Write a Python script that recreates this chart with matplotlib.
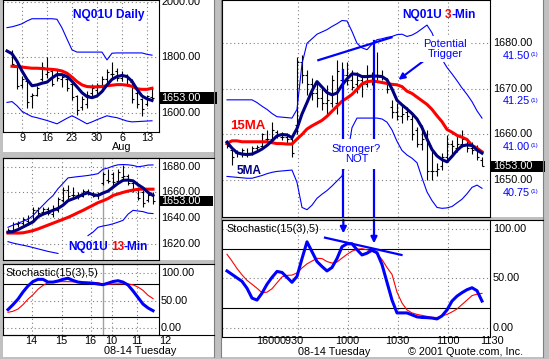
import numpy as np
import matplotlib
matplotlib.use('Agg')
import matplotlib.pyplot as plt
from matplotlib.patches import Rectangle
from matplotlib.lines import Line2D
import matplotlib.transforms as mtrans

plt.rcParams['font.family'] = ['Liberation Sans', 'DejaVu Sans']
nan = np.nan

# ---------------- Daily panel data (trading-day index, 9 Jul = 0) ----------------
day_idx = np.arange(-3, 27)
day_tick_pos = [0, 5, 10, 15, 20, 25]
day_tick_lab = ['9', '16', '23', '30', '6', '13']
day_ma5 = [1822, 1812, 1785, 1750, 1720, 1697, 1700, 1706, 1710, 1725, 1737, 1737, 1730, 1713, 1693,
           1672, 1658, 1654, 1660, 1676, 1700, 1720, 1730, 1734, 1730, 1713, 1684, 1660, 1650, 1644]
day_ma15 = [nan, 1767, 1766, 1764, 1762, 1760, 1760, 1759, 1757, 1756, 1754, 1750, 1742, 1728, 1712,
            1700, 1694, 1693, 1693, 1694, 1697, 1699, 1701, 1701, 1699, 1695, 1686, 1684, 1684, 1688]
day_upper = [1906, 1909, 1914, 1920, 1930, 1938, 1938, 1938, 1938, 1938, 1936, 1905, 1865, 1826, 1818,
             1818, 1818, 1818, 1818, 1818, 1790, 1814, 1815, 1815, 1815, 1815, 1815, 1815, 1810, 1807]
day_lower = [1637, 1640, 1625, 1605, 1595, 1586, 1582, 1577, 1572, 1566, 1560, 1570, 1580, 1589, 1580,
             1570, 1560, 1567, 1575, 1582, 1589, 1585, 1582, 1576, 1570, 1567, 1568, 1569, 1570, 1571]
day_high = [nan, 1827, 1775, 1732, 1720, 1672, 1696, 1781, 1799, 1762, 1756, 1738, 1726, 1714, 1665,
            1659, 1678, 1702, 1708, 1732, 1756, 1781, 1762, 1750, 1738, 1720, 1684, 1653, 1665, 1690]
day_low = [nan, 1768, 1684, 1690, 1617, 1617, 1659, 1714, 1726, 1696, 1714, 1693, 1678, 1647, 1593,
           1611, 1617, 1659, 1665, 1690, 1708, 1726, 1714, 1714, 1696, 1635, 1617, 1587, 1623, 1647]
day_open = [nan, 1820, 1770, 1700, 1715, 1660, 1665, 1720, 1740, 1750, 1740, 1720, 1720, 1705, 1660,
            1620, 1630, 1670, 1680, 1700, 1720, 1740, 1750, 1725, 1735, 1710, 1670, 1650, 1630, 1655]
day_close = [nan, 1775, 1695, 1720, 1640, 1665, 1690, 1765, 1745, 1705, 1725, 1730, 1690, 1655, 1610,
             1650, 1665, 1690, 1700, 1720, 1745, 1740, 1725, 1735, 1705, 1650, 1630, 1615, 1660, 1653]
day_yticks = [1600, 1800, 2000]

# ---------------- 13-min panel data ----------------
m13_idx = np.arange(0, 30)
m13_tick_pos = [4.7, 10.7, 16.5, 20.7, 25.7, 31.4]
m13_tick_lab = ['14', '15', '16', '10', '11', '12']
m13_daybreak = 19
m13_ma5 = [1629, 1629.5, 1631, 1633, 1635, 1637, 1641, 1643, 1644.5, 1646, 1647.5, 1650, 1653.5, 1655, 1656.5,
           1658.5, 1659.7, 1658.2, 1657.6, 1659.5, 1661, 1664, 1667, 1669.4, 1669.6, 1669, 1666, 1663.5, 1660, 1657.6]
m13_ma15 = [1628.3, 1628.3, 1628.3, 1628.5, 1629.3, 1630.2, 1631.5, 1633, 1634.5, 1636, 1637.5, 1639, 1640.5,
            1642.3, 1644.2, 1646, 1648, 1650, 1652, 1653.5, 1655.2, 1657.6, 1658.8, 1660, 1661, 1661.8, 1662.4,
            1662.5, 1662.5, 1662.5]
m13_upper = [1632.8, 1634.5, 1636, 1637.5, 1639, 1642, 1646, 1650, 1654, 1657.5, 1662.9, 1667, 1671.3, 1671.8,
             1672.3, 1672.7, 1673.2, 1673.8, 1674.6, 1678, 1679, 1680.5, 1681.5, 1681.7, 1681.5, 1681, 1680,
             1680.5, 1681.3, 1681.4]
m13_lower = [1621.6, 1620.5, 1619.6, 1618.8, 1618, 1617, 1616, 1615, 1614, 1613.2, 1612.4, nan, nan, nan, nan,
             nan, 1626.3, 1629, 1632.8, 1633.8, 1634.5, 1635.5, 1636.8, 1638.2, 1643, 1646, 1645.5, 1645,
             1643.8, 1643.5]
m13_high = [1632, 1637, 1638, 1641, 1642, 1648.5, 1648.5, 1648.5, 1648.5, 1650, 1656.3, 1664, 1665.5, 1664, 1660,
            1663, 1663, 1660, 1660, 1676, 1678.6, 1676, 1678.6, 1681.2, 1674.7, 1668.2, 1664.2, 1661.6, 1660.3, 1660.3]
m13_low = [1628, 1629, 1633, 1634.5, 1634.5, 1636.7, 1642, 1643, 1642, 1641, 1644.6, 1652.4, 1653.7, 1655, 1655,
           1656.3, 1657.6, 1656.3, 1655, 1665.5, 1667, 1665.5, 1668.2, 1670.8, 1665.5, 1660.3, 1653.7, 1648.5,
           1652.4, 1651]
m13_open = [1629, 1630, 1635, 1636, 1638, 1638, 1646, 1645, 1647, 1643, 1646, 1654, 1662, 1658, 1658, 1657, 1661,
            1659, 1658, 1667, 1670, 1674, 1669, 1672, 1673, 1667, 1662, 1660, 1654, 1658]
m13_close = [1631, 1635, 1636, 1639, 1637, 1646, 1644, 1647, 1644, 1648, 1655, 1662, 1657, 1658, 1657, 1661, 1659,
             1657, 1659, 1674, 1669, 1668, 1676, 1673, 1667, 1662, 1656, 1652, 1658, 1653]
m13_yticks = [1620, 1640, 1660, 1680]
s13_k = [34, 43, 53, 66, 77, 85, 89, 89, 84, 84, 86, 89, 91, 87, 84, 83, 82.5, 82, 80.5, 79.3, 82, 85, 86.5, 84,
         78.8, 68, 56, 44, 37, 32]
s13_d = [29, 31, 35, 43, 53, 61, 71, 78, 83, 84, 84.5, 84.8, 84.8, 84.5, 84, 83.8, 83.5, 83.2, 83, 80, 79.5, 80.6,
         80.8, 80.8, 80.6, 79, 75, 69, 60, 54]

# ---------------- 3-min panel data ----------------
m3_idx = np.arange(0, 52)
m3_grid = [14.2, 24.2, 34.2, 44.2]
m3_tick_pos = [10.6, 10.6, 24.0, 34.0, 44.2, 53.0]
m3_tick_lab = ['1600', '0930', '1000', '1030', '1100', '1130']
m3_tick_ha = ['right', 'left', 'center', 'center', 'center', 'center']
m3_ma5 = [1658.3, 1657, 1656, 1655.7, 1655.6, 1655.7, 1656.2, 1656.8, 1657.6, 1658.6, 1659.7, 1660, 1659.9, 1659.3,
          1661.3, 1664.5, 1667, 1669.6, 1671.6, 1670.4, 1669.2, 1668.7, 1669.1, 1670.8, 1672.2, 1673.3, 1673.2,
          1672.7, 1672.7, 1672.8, 1672.8, 1672.7, 1672, 1670, 1667.5, 1666.5, 1665.6, 1664.6, 1663.4, 1661.5, 1659,
          1656.7, 1655.3, 1654.5, 1654, 1655.2, 1656.5, 1657.5, 1657.7, 1657.6, 1656.6, 1655.9]
m3_ma15 = [1658.1, 1658.6, 1658.6, 1658.4, 1658.4, 1658.4, 1658.4, 1658.4, 1658.4, 1658.2, 1658, 1658, 1657.9,
           1657.9, 1659, 1660, 1661.2, 1661.9, 1662.5, 1663.1, 1664, 1665.1, 1666.2, 1667.3, 1668, 1668.8, 1669.9,
           1671.1, 1671.6, 1671.7, 1671.6, 1671.4, 1671.2, 1671, 1670.9, 1670.5, 1669.5, 1669, 1668.2, 1667.4,
           1666.6, 1665.5, 1664.1, 1662.8, 1661.1, 1660.5, 1659.8, 1659.4, 1658.9, 1657.6, 1657, 1656.2]
m3_upper = [1667.6, 1667.6, 1667.6, 1667.6, 1667.6, 1667.6, 1667, 1666.2, 1665.5, 1664.6, 1663.9, 1663.8, 1663.7,
            1663.6, 1665.5, 1675.5, 1680, 1681, 1682, 1682.5, 1683, 1683.7, 1684.3, 1685, 1684.9, 1682.6, 1680,
            1679, 1678.6, 1679.8, 1680.8, 1681, 1681.3, 1681.5, 1681.9, 1682, 1681.5, 1681.8, 1682.4, 1683.2, 1684,
            1682.3, 1679.5, 1676.5, 1674.7, 1673.3, 1671.8, 1670.2, 1668.8, 1667.2, 1665.2, 1663.6]
m3_lower = [1650.8, 1650.7, 1650.6, 1650.5, 1650.4, 1650.4, 1650.7, 1651, 1651.4, 1651.7, 1651.9, 1652, 1652.1,
            1652.2, 1649.5, 1644, 1643.5, 1644.5, 1646, 1646.9, 1647.7, 1648.7, 1649.8, 1650.9, 1655, 1661.5,
            1663.6, 1663.6, 1663.6, 1663.6, 1663.6, 1663.4, 1662.7, 1661, 1658.5, 1656.5, 1655.5, 1654.8, 1653.8,
            1650.5, 1647.4, 1645.5, 1644, 1643.8, 1643.9, 1644.2, 1645, 1645.8, 1647, 1648.4, 1648.9, 1648.2]
m3_high = [1658.8, 1657, 1656.6, 1657, 1657, 1657.5, 1657.6, 1660.3, 1661, 1662.8, 1661, 1660.5, 1660.3, 1659.5,
           1677, 1677.4, 1674.2, 1672.3, 1671.2, 1670.1, 1670.9, 1673.1, 1676.3, 1676, 1676, 1674.2, 1673.8,
           1673.1, 1675.2, 1673.8, 1678.2, 1674.2, 1672.3, 1667.6, 1666.8, 1666.5, 1666, 1664.3, 1661.7, 1662.1,
           1661, 1656.6, 1653.7, 1655.9, 1659.9, 1658.8, 1659.9, 1661, 1658.8, 1658.4, 1657.7, 1655.1]
m3_low = [1657, 1653.3, 1655.1, 1655.1, 1655.1, 1655.5, 1656.2, 1657.3, 1658.1, 1658.8, 1659.2, 1658.8, 1658.1,
          1655.1, 1660, 1671.2, 1668.7, 1667.6, 1666.1, 1665.4, 1664.3, 1666.1, 1664.6, 1667.6, 1670.9, 1669.8,
          1669, 1668.3, 1670.5, 1670.9, 1672, 1672, 1669, 1663.6, 1663.2, 1662.5, 1663.2, 1658.8, 1657.3, 1656.6,
          1650.1, 1650.1, 1650.8, 1652.2, 1654.4, 1655.1, 1656.2, 1657.3, 1656.2, 1655.8, 1654.4, 1653]
m3_open = [1658, 1656.5, 1656, 1656, 1655.5, 1656, 1657, 1657.5, 1659, 1659, 1660.5, 1659.5, 1659.5, 1659, 1662,
           1676, 1673, 1671, 1669, 1668, 1667, 1667, 1667, 1672, 1673, 1672, 1671, 1672, 1671, 1672, 1673, 1673,
           1671.5, 1666, 1665, 1664, 1665, 1663.5, 1661, 1658, 1660, 1652, 1652, 1653, 1655, 1658, 1657, 1658,
           1658, 1657, 1656.5, 1654.5]
m3_close = [1657.5, 1655, 1656, 1656.5, 1656, 1657, 1657.2, 1660, 1659, 1661, 1660, 1659.5, 1659, 1656, 1676,
            1673, 1671, 1669, 1668, 1667, 1667.5, 1672, 1674, 1673, 1672, 1670.5, 1672, 1671, 1673, 1672.5, 1673,
            1672.5, 1670, 1665, 1664, 1664.5, 1664, 1660, 1658, 1659, 1652, 1652, 1652.5, 1655, 1658, 1657.5,
            1658, 1659, 1657, 1656.5, 1655, 1653]
m3_yticks = [1650, 1660, 1670, 1680]
m3_sec_lab = ['41.50', '41.25', '41.00', '40.75']
m3_sec_pos = [1677.2, 1667.3, 1657.3, 1647.2]
s3_k = [57.5, 54, 50.5, 47, 40, 30, 28, 35, 44, 51, 57, 56, 51, 46, 52, 70, 87, 77, 67, 62, 57.5, 61, 70, 82, 85,
        85, 79, 73.7, 75.5, 78.5, 76, 64, 46, 28, 15, 15, 15, 13, 11, 10.4, 10.2, 9.8, 8.9, 12, 18, 27, 32, 35.5,
        38.5, 40.5, 37.5, 27]
s3_d = [74.4, 67.5, 60, 53.5, 48, 44, 40, 35.5, 36, 39.5, 45.5, 51.5, 53, 53.3, 55.5, 60.5, 64.7, 67.5, 70.3, 70,
        67, 65.5, 66.5, 70.5, 74.3, 77.5, 79.5, 80, 79, 77.5, 75, 69, 61, 54, 36, 25, 18, 15, 13.5, 12.5, 11.5,
        10.5, 10.3, 12, 13.5, 16, 19, 23.5, 28, 32.5, 34, 34.8]
stoch_yticks = [0, 50, 100]
last_price = 1653

# annotations (data coordinates of the 3-min panels)
ann_vert_x = [23.27, 29.4]
ann_vert_top = [1674.2, 1680.4]
ann_vert_tip = [95.6, 85.5]
ann_trend_price = [(18.27, 1676.3), (32.9, 1681.3)]
ann_trend_stoch = [(19.6, 91.2), (34.9, 73.7)]
ann_trigger_from = (39.4, 1676.2)
ann_trigger_to = (34.3, 1672.0)

# ---------------- layout helpers ----------------
W, H = 549, 359
FS = 7.8
BLUE = '#0000ff'
NAVY = '#000080'
RED = '#ff0000'
GRIDC = '#808080'

fig = plt.figure(figsize=(W / 100, H / 100), dpi=100, facecolor='#c0c0c0')


def rect(x0, y0, x1, y1):
    return [x0 / W, 1 - y1 / H, (x1 - x0) / W, (y1 - y0) / H]


def fig_rect(x0, y0, x1, y1, color, z=-5):
    fig.patches.append(Rectangle((x0 / W, 1 - y1 / H), (x1 - x0) / W, (y1 - y0) / H,
                                 transform=fig.transFigure, facecolor=color, edgecolor='none', zorder=z))


def fig_line(x0, y0, x1, y1, color='black', lw=0.8, z=10):
    fig.lines.append(Line2D([x0 / W, x1 / W], [1 - y0 / H, 1 - y1 / H], transform=fig.transFigure,
                            color=color, lw=lw, zorder=z))


# white panel backgrounds
fig_rect(3, 0, 214, 152, 'white')
fig_rect(3, 158, 214, 260, 'white')
fig_rect(3, 264, 214, 357, 'white')
fig_rect(222, 0, 543, 217, 'white')
fig_rect(222, 220, 543, 357, 'white')
# 3d-ish separator shading
for xs in (214, 543):
    fig_line(xs, 0, xs, 357, color='#808080', lw=0.8)
fig_line(221, 0, 221, 357, color='#808080', lw=0.8)


def setup(ax, xlim, ylim, yt, xt):
    ax.set_xlim(*xlim)
    ax.set_ylim(*ylim)
    ax.set_facecolor('white')
    ax.set_yticks(yt)
    ax.set_xticks(xt)
    ax.tick_params(length=0, labelleft=False, labelbottom=False)
    ax.grid(True, color=GRIDC, lw=0.8, ls=(0, (1, 2.5)))
    ax.set_axisbelow(True)
    for s in ax.spines.values():
        s.set_color('black')
        s.set_linewidth(0.8)


def make_lab(px, ax):
    lab = fig.add_axes(rect(*px), sharey=ax)
    lab.set_xlim(0, 1)
    lab.axis('off')
    return lab


def ylabels(lab, vals, xoff, color='black'):
    for v in vals:
        lab.text(xoff, v, f'{v:.2f}', va='center', ha='left', fontsize=FS, color=color, clip_on=False)


def highlight(lab, val, xoff, x0, x1, hpx, axheight_px):
    y0, y1 = lab.get_ylim()
    hh = hpx * (y1 - y0) / axheight_px
    lab.add_patch(Rectangle((x0, val - hh), x1 - x0, 2 * hh, facecolor='black', edgecolor='none',
                            clip_on=False, zorder=5))
    lab.text(xoff, val, f'{val:.2f}', va='center', ha='left', fontsize=FS, color='white', zorder=6,
             clip_on=False)


def xlabels(ax, pos, labs, ypx, has=None):
    tr = mtrans.blended_transform_factory(ax.transData, fig.transFigure)
    if has is None:
        has = ['center'] * len(pos)
    for p, l, ha in zip(pos, labs, has):
        ax.text(p, 1 - ypx / H, l, transform=tr, ha=ha, va='center', fontsize=FS, clip_on=False)


def ohlc(ax, x, o, h, l, c, tick=0.4):
    x = np.asarray(x, float)
    o, h, l, c = (np.asarray(a, float) for a in (o, h, l, c))
    m = ~np.isnan(h)
    ax.vlines(x[m], l[m], h[m], color='black', lw=0.8, zorder=2)
    ax.hlines(o[m], x[m] - tick, x[m], color='black', lw=0.8, zorder=2)
    ax.hlines(c[m], x[m], x[m] + tick, color='black', lw=0.8, zorder=2)


def seq_text(x_px, y_px, parts, fs, weight='bold'):
    r = fig.canvas.get_renderer()
    x = x_px
    for s, col in parts:
        if s == ' ':
            x += fs * 0.35
            continue
        t = fig.text(x / W, 1 - y_px / H, s, color=col, fontsize=fs, fontweight=weight, ha='left', va='center')
        bb = t.get_window_extent(renderer=r)
        x += bb.width


# ---------------- Daily panel ----------------
ax1 = fig.add_axes(rect(3, 0, 159, 132))
setup(ax1, (-3.8, 27.4), (1530.6, 2005.4), day_yticks, day_tick_pos)
lab1 = make_lab((159, 0, 214, 132), ax1)
ax1.plot(day_idx, day_upper, color=BLUE, lw=0.8, zorder=3)
ax1.plot(day_idx, day_lower, color=BLUE, lw=0.8, zorder=3)
ohlc(ax1, day_idx, day_open, day_high, day_low, day_close)
ax1.plot(day_idx, day_ma15, color=RED, lw=2.2, zorder=4)
ax1.plot(day_idx, day_ma5, color=NAVY, lw=2.2, zorder=5)
ylabels(lab1, day_yticks, 2 / 55)
highlight(lab1, last_price, 2 / 55, 1 / 55, 58 / 55, 5.8, 132)
xlabels(ax1, day_tick_pos, day_tick_lab, 138.5)
ax1.text(day_tick_pos[4], 1 - 147.5 / H, 'Aug', transform=mtrans.blended_transform_factory(ax1.transData, fig.transFigure),
         ha='center', va='center', fontsize=FS, clip_on=False)
fig.text(73 / W, 1 - 15 / H, 'NQ01U Daily', color=BLUE, fontsize=8.6, fontweight='bold', ha='left', va='center')

# ---------------- 13-min panel ----------------
ax2 = fig.add_axes(rect(3, 158, 159, 260))
setup(ax2, (-1, 30.2), (1607.3, 1686.8), m13_yticks, m13_tick_pos[:5])
lab2 = make_lab((159, 158, 214, 260), ax2)
ax2.axvline(m13_daybreak, color='#a0a0a0', lw=1.0, zorder=1)
ax2.plot(m13_idx, m13_upper, color=BLUE, lw=0.8, zorder=3)
ax2.plot(m13_idx, m13_lower, color=BLUE, lw=0.8, zorder=3)
ohlc(ax2, m13_idx, m13_open, m13_high, m13_low, m13_close)
ax2.plot(m13_idx, m13_ma15, color=RED, lw=2.2, zorder=4)
ax2.plot(m13_idx, m13_ma5, color=NAVY, lw=2.2, zorder=5)
ylabels(lab2, m13_yticks, 2 / 55)
highlight(lab2, last_price, 2 / 55, 1 / 55, 54 / 55, 5.0, 102)
seq_text(68, 247, [('NQ01U', BLUE), (' ', None), ('13', RED), ('-Min', BLUE)], 8.6)

# ---------------- 13-min stochastic ----------------
ax3 = fig.add_axes(rect(3, 264, 159, 335))
setup(ax3, (-1, 30.2), (-12.2, 116.9), stoch_yticks, m13_tick_pos[:5])
lab3 = make_lab((159, 264, 214, 335), ax3)
ax3.axvline(m13_daybreak, color='#a0a0a0', lw=1.0, zorder=1)
ax3.axhline(80, color='black', lw=0.8, zorder=2)
ax3.axhline(20, color='black', lw=0.8, zorder=2)
ax3.plot(m13_idx, s13_d, color=RED, lw=0.8, zorder=3)
ax3.plot(m13_idx, s13_k, color=BLUE, lw=2.2, zorder=4)
ylabels(lab3, stoch_yticks, 2 / 55)
xlabels(ax3, m13_tick_pos, m13_tick_lab, 341.5)
fig.text(140 / W, 1 - 351.5 / H, '08-14 Tuesday', fontsize=FS, ha='center', va='center')
fig.text(5 / W, 1 - 273 / H, 'Stochastic(15(3),5)', fontsize=FS, ha='left', va='center')
fig_line(3, 158, 214, 158)
fig_line(3, 264, 214, 264)
fig_line(3, 335, 214, 335)

# ---------------- 3-min panel ----------------
bx1 = fig.add_axes(rect(222, 0, 490, 217))
setup(bx1, (-1.0, 52.6), (1641.9, 1689.5), m3_yticks, m3_grid)
blab1 = make_lab((490, 0, 543, 217), bx1)
bx1.plot(m3_idx, m3_upper, color=BLUE, lw=0.8, zorder=3)
bx1.plot(m3_idx, m3_lower, color=BLUE, lw=0.8, zorder=3)
ohlc(bx1, m3_idx, m3_open, m3_high, m3_low, m3_close)
bx1.plot(m3_idx, m3_ma15, color=RED, lw=2.2, zorder=4)
bx1.plot(m3_idx, m3_ma5, color=NAVY, lw=2.2, zorder=5)
ylabels(blab1, m3_yticks, 3 / 53)
for lbl, pos in zip(m3_sec_lab, m3_sec_pos):
    blab1.text(12.5 / 53, pos, lbl, va='center', ha='left', fontsize=FS, color=BLUE, clip_on=False)
    blab1.text(41 / 53, pos + 0.25, '(1)', va='center', ha='left', fontsize=4.5, color=BLUE, clip_on=False)
highlight(blab1, last_price, 3 / 53, 1 / 53, 55 / 53, 5.8, 217)

# annotations on price panel
for xv, top in zip(ann_vert_x, ann_vert_top):
    bx1.plot([xv, xv], [top, 1641.9], color=BLUE, lw=1.6, zorder=6, clip_on=False)
bx1.plot([p[0] for p in ann_trend_price], [p[1] for p in ann_trend_price], color=BLUE, lw=1.6, zorder=6)
bx1.annotate('', xy=ann_trigger_to, xytext=ann_trigger_from,
             arrowprops=dict(arrowstyle='-|>', color=BLUE, lw=1.5, mutation_scale=9, shrinkA=0, shrinkB=0),
             zorder=7)
bx1.text(25.9, 1655.7, 'Stronger?\nNOT', color=BLUE, fontsize=8, ha='center', va='center', linespacing=1.05,
         zorder=8, bbox=dict(boxstyle='square,pad=0.45', fc='white', ec='none'))
bx1.text(43.6, 1678.8, 'Potential\nTrigger', color=BLUE, fontsize=8, ha='center', va='center', linespacing=1.05,
         zorder=8, bbox=dict(boxstyle='square,pad=0.25', fc='white', ec='none'))
seq_text(402, 15, [('NQ01U', BLUE), (' ', None), ('3', RED), ('-Min', BLUE)], 8.6)
fig.text(230 / W, 1 - 126 / H, '15MA', color=RED, fontsize=9.5, fontweight='bold', ha='left', va='center')
fig.text(237 / W, 1 - 171 / H, '5MA', color=NAVY, fontsize=8.6, fontweight='bold', ha='left', va='center')

# ---------------- 3-min stochastic ----------------
bx2 = fig.add_axes(rect(222, 220, 490, 337))
setup(bx2, (-1.0, 52.6), (-9.4, 109.1), stoch_yticks, m3_grid)
blab2 = make_lab((490, 220, 543, 337), bx2)
bx2.axhline(80, color='black', lw=0.8, zorder=2)
bx2.axhline(20, color='black', lw=0.8, zorder=2)
bx2.plot(m3_idx, s3_d, color=RED, lw=0.8, zorder=3)
bx2.plot(m3_idx, s3_k, color=BLUE, lw=2.2, zorder=4)
ylabels(blab2, stoch_yticks, 3 / 53)
for xv, tip in zip(ann_vert_x, ann_vert_tip):
    bx2.annotate('', xy=(xv, tip), xytext=(xv, 109.1),
                 arrowprops=dict(arrowstyle='-|>', color=BLUE, lw=1.6, mutation_scale=9, shrinkA=0, shrinkB=0),
                 zorder=6)
bx2.plot([p[0] for p in ann_trend_stoch], [p[1] for p in ann_trend_stoch], color=BLUE, lw=1.6, zorder=6)
xlabels(bx2, m3_tick_pos, m3_tick_lab, 341.5, m3_tick_ha)
fig.text(334 / W, 1 - 352 / H, '08-14 Tuesday', fontsize=FS, ha='center', va='center')
fig.text(408 / W, 1 - 352 / H, '\u00a9 2001 Quote.com, Inc.', fontsize=FS, ha='left', va='center')
fig.text(226 / W, 1 - 228.7 / H, 'Stochastic(15(3),5)', fontsize=FS, ha='left', va='center')
fig_line(222, 220, 543, 220)

fig.savefig('out.png', dpi=100, facecolor=fig.get_facecolor())
